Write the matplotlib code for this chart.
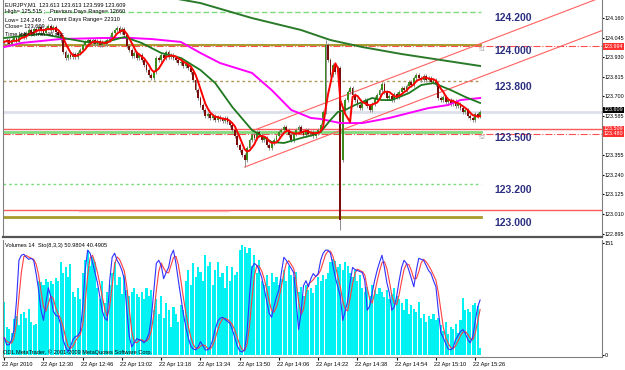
import matplotlib
matplotlib.use("Agg")
import matplotlib.pyplot as plt
import matplotlib.transforms as mtransforms
import numpy as np
import pandas as pd

plt.rcParams['font.family'] = ['Liberation Sans', 'DejaVu Sans']

# EURJPY M1 closes, one per bar, from 22 Apr 12:14
close = [
    124.020, 124.031, 124.008, 124.031, 124.043, 124.020, 124.055, 124.067, 124.049, 124.072,
    124.090, 124.067, 124.096, 124.084, 124.108, 124.090, 124.072, 124.102, 124.113, 124.090,
    124.108, 124.078, 124.061, 124.031, 123.961, 123.926, 123.943, 123.932, 123.949, 123.932,
    123.955, 123.973, 124.002, 124.020, 124.031, 124.014, 124.031, 124.008, 124.025, 124.002,
    124.020, 124.008, 124.031, 124.049, 124.072, 124.090, 124.102, 124.078, 124.096, 124.061,
    123.996, 123.973, 123.937, 123.955, 123.926, 123.943, 123.914, 123.885, 123.855, 123.826,
    123.808, 123.844, 123.926, 123.914, 123.943, 123.926, 123.961, 123.932, 123.943, 123.926,
    123.914, 123.896, 123.902, 123.879, 123.891, 123.867, 123.844, 123.797, 123.738, 123.691,
    123.650, 123.621, 123.585, 123.597, 123.574, 123.585, 123.562, 123.580, 123.568, 123.556,
    123.574, 123.550, 123.533, 123.503, 123.468, 123.415, 123.386, 123.357, 123.327, 123.398,
    123.445, 123.474, 123.456, 123.492, 123.474, 123.445, 123.456, 123.415, 123.398, 123.427,
    123.445, 123.468, 123.492, 123.503, 123.521, 123.503, 123.474, 123.445, 123.480, 123.503,
    123.521, 123.492, 123.474, 123.503, 123.480, 123.492, 123.468, 123.486, 123.503, 123.533,
    123.609, 124.002, 123.914, 123.826, 123.885, 123.844, 123.867, 122.975, 123.621, 123.679,
    123.726, 123.750, 123.709, 123.679, 123.650, 123.632, 123.662, 123.679, 123.644, 123.621,
    123.656, 123.691, 123.709, 123.738, 123.773, 123.726, 123.691, 123.703, 123.679, 123.715,
    123.697, 123.726, 123.750, 123.738, 123.761, 123.785, 123.767, 123.808, 123.826, 123.808,
    123.797, 123.820, 123.797, 123.808, 123.785, 123.797, 123.773, 123.691, 123.679, 123.697,
    123.668, 123.679, 123.656, 123.673, 123.644, 123.656, 123.632, 123.609, 123.621, 123.585,
    123.574, 123.562, 123.597, 123.585, 123.609,
]
# bars whose open/high/low differ from the usual shape
open_fix = {138: 123.330}
high_fix = {131: 124.031}
low_fix = {98: 123.286, 137: 122.917}

volume = [
    71, 38, 35, 30, 48, 52, 40, 55, 58, 50, 62, 45, 40, 42, 100, 98, 95,
    102, 98, 100, 96, 104, 100, 125, 110, 118, 105, 122, 85, 78, 90, 75, 110,
    128, 141, 120, 132, 125, 90, 75, 100, 70, 85, 95, 110, 125, 95, 105, 82, 108,
    88, 80, 85, 90, 82, 78, 85, 75, 90, 80, 88, 60, 75, 55, 80,
    50, 70, 60, 38, 65, 55, 45, 68, 60, 100, 115, 95, 124, 105, 118,
    112, 100, 135, 120, 125, 95, 115, 125, 105, 110, 90, 120, 100, 118, 108, 112,
    142, 148, 145, 138, 144, 120, 135, 110, 128, 100, 95, 108, 93, 110, 98, 105, 95, 102,
    115, 100, 120, 108, 105, 112, 85, 92, 80, 95, 88, 90, 83, 94, 105, 100, 108, 103, 110,
    125, 130, 127, 118, 122, 115, 125, 120, 110, 105, 115, 100, 108,
    90, 85, 92, 80, 95, 88, 82, 90, 85, 78, 88, 75, 82, 90, 80, 76,
    70, 60, 75, 55, 68, 62, 58, 72, 50, 55, 45, 52, 48, 55, 47, 50,
    40, 32, 45, 28, 38, 35, 42, 30, 47, 77, 60, 62, 58, 67, 70, 66, 10,
]

sto_main = [
    14, 7, 7, 12, 22, 50, 90, 95, 96, 93, 91, 92, 90, 77, 61, 41, 31, 48, 63, 54,
    40, 36, 35, 27, 12, 5, 0, 5, 12, 15, 16, 20, 44, 80, 100, 97, 88, 78, 68, 54,
    40, 33, 31, 70, 93, 97, 90, 86, 80, 71, 40, 15, 5, 9, 13, 12, 11, 9, 12, 18,
    34, 60, 87, 90, 85, 72, 78, 83, 95, 100, 87, 70, 54, 38, 25, 14, 6, 3, 2, 5,
    10, 6, 2, 2, 5, 12, 22, 30, 33, 34, 32, 30, 28, 22, 14, 6, 1, 0, 2, 20,
    55, 83, 87, 85, 80, 73, 62, 50, 38, 34, 45, 54, 61, 78, 93, 90, 86, 82, 78, 50,
    22, 38, 65, 70, 64, 72, 77, 74, 77, 90, 97, 100, 100, 97, 85, 73, 64, 55, 31, 40,
    50, 68, 83, 81, 80, 79, 78, 70, 41, 45, 58, 70, 80, 88, 95, 83, 68, 58, 41, 44,
    55, 70, 83, 90, 87, 80, 72, 64, 80, 92, 91, 90, 85, 80, 77, 70, 64, 40, 19, 14,
    8, 3, 2, 4, 12, 16, 20, 22, 18, 12, 9, 15, 30, 44, 51,
]

# moving averages (bar index, price)
green_bar = [0, 15, 33, 40, 49, 56, 64, 72, 80, 86, 93, 101, 109, 114, 121, 126, 129,
             133, 136, 139, 143, 150, 154, 158, 165, 170, 175, 182, 188, 194]
green_price = [124.043, 124.067, 124.020, 124.014, 124.049, 124.014, 123.955, 123.926,
               123.855, 123.779, 123.638, 123.503, 123.433, 123.427, 123.456, 123.474,
               123.492, 123.562, 123.609, 123.621, 123.650, 123.691, 123.679, 123.679,
               123.720, 123.767, 123.779, 123.738, 123.697, 123.662]
magenta_bar = [0, 7, 23, 40, 52, 60, 72, 80, 88, 101, 109, 117, 125, 129, 137, 146,
               157, 165, 173, 181, 186, 194]
magenta_price = [123.990, 124.014, 124.037, 124.043, 124.043, 124.037, 124.020, 123.955,
                 123.896, 123.838, 123.738, 123.621, 123.574, 123.568, 123.544, 123.544,
                 123.574, 123.603, 123.632, 123.650, 123.679, 123.691]
slow_bar = [60, 80, 101, 121, 133, 146, 162, 178, 194]
slow_price = [124.300, 124.248, 124.160, 124.090, 124.031, 123.990, 123.949, 123.914, 123.879]

# pivot levels with their captions
pivot_price = [124.196, 124.000, 123.791, 123.492, 123.186, 122.990]
pivot_text = ["124.200", "124.000", "123.800", "123.500", "123.200", "123.000"]
s1_price = 123.994
s2_price = 123.480
red_lines = [123.509, 123.031]
bid = 123.609

# channel (start bar, start price, end bar, end price)
chan_upper = (102, 123.503, 245, 124.290)
chan_lower = (98, 123.286, 245, 124.094)

price_ticks = [124.160, 124.045, 123.930, 123.815, 123.700, 123.585,
               123.355, 123.240, 123.125, 123.010, 122.895]
time_labels = ["22 Apr 2010", "22 Apr 12:30", "22 Apr 12:46", "22 Apr 13:02",
               "22 Apr 13:18", "22 Apr 13:34", "22 Apr 13:50", "22 Apr 14:06",
               "22 Apr 14:22", "22 Apr 14:38", "22 Apr 14:54", "22 Apr 15:10",
               "22 Apr 15:26"]

W, H = 625, 370
small = 4.1
fig = plt.figure(figsize=(W / 100, H / 100), dpi=100)
fig.patch.set_facecolor("white")
ax = fig.add_axes([3 / W, 1 - 237 / H, 599 / W, 237 / H])
ax2 = fig.add_axes([3 / W, 1 - 357 / H, 599 / W, 117 / H])
ax3 = fig.add_axes([3 / W, 1 - 357 / H, 599 / W, 117 / H], frameon=False)

xlim = (-0.5, 243.7)
n = len(close)
x = np.arange(n)
c = np.array(close)
o = np.r_[c[0], c[:-1]]
for k, v in open_fix.items():
    o[k] = v
wick = 0.012
hi = np.maximum(o, c) + wick
lo = np.minimum(o, c) - wick
for k, v in high_fix.items():
    hi[k] = v
for k, v in low_fix.items():
    lo[k] = v

# horizontal levels
end_bar = n - 0.5
pstyle = [("#7ddc7d", (0, (4, 2)), 1.0), ("#a89a2a", "-", 1.4), ("#b09a5a", (0, (2, 2)), 1.0),
          ("#7ddc7d", "-", 2.0), ("#7ddc7d", (0, (2, 2)), 1.0), ("#a89a2a", "-", 2.0)]
for p, (col, ls, lw) in zip(pivot_price, pstyle):
    ax.plot([-0.5, end_bar], [p, p], color=col, ls=ls, lw=lw, zorder=1)
for p, t in zip(pivot_price, pivot_text):
    ax.text(200, p - 0.004, t, color="#2b2f80", fontsize=7.5, fontweight="bold",
            va="top", ha="left")
ax.axhline(bid, color="#dde0ea", lw=2, zorder=0.5)
for p in red_lines:
    ax.axhline(p, color="#ff5a5a", lw=1, zorder=1)
ax.plot([30.6, 91.3], [red_lines[1] - 0.003] * 2, color="#ffb0b0", lw=1, zorder=1)
for p in (s1_price, s2_price):
    ax.axhline(p, color="#ff5050", lw=0.8, ls="-.", zorder=1)
ax.text(end_bar - 1, s1_price - 0.006, "S1", color="#a0a0a0", fontsize=small, va="top")
ax.text(end_bar - 1, s2_price - 0.006, "S2", color="#a0a0a0", fontsize=small, va="top")

# channel
for b0, p0, b1, p1 in (chan_upper, chan_lower):
    ax.plot([b0, b1], [p0, p1], color="#ff6060", lw=0.8, zorder=2)

# candles
ax.vlines(x, lo, hi, color="#8c8c8c", lw=0.7, zorder=3)
up = c >= o
body = np.maximum(np.abs(c - o), 0.002)
ax.bar(x[up], body[up], bottom=np.minimum(o, c)[up], width=0.75, color="#3c8c1e", zorder=4)
ax.bar(x[~up], body[~up], bottom=np.minimum(o, c)[~up], width=0.75, color="#7a0c0c", zorder=4)

# moving averages
ma_fast = pd.Series(c).rolling(5, min_periods=1).mean()
ax.plot(slow_bar, slow_price, color="#2a7a2a", lw=1.4, zorder=5)
ax.plot(magenta_bar, magenta_price, color="#ff00ff", lw=1.4, zorder=5)
ax.plot(green_bar, green_price, color="#1e781e", lw=1.3, zorder=5)
ax.plot(x, ma_fast, color="#ff0000", lw=1.4, zorder=6)

ax.set_xlim(*xlim)
ax.set_ylim(124.266 - 237 * 0.005867, 124.266)
ax.yaxis.tick_right()
ax.set_yticks(price_ticks)
ax.set_yticklabels([f"{t:.3f}" for t in price_ticks], fontsize=3.9)
ax.tick_params(axis="y", length=1.5, pad=0.5, colors="black")
ax.set_xticks([])
for s in ("left", "right"):
    ax.spines[s].set_color("#808080")
    ax.spines[s].set_linewidth(0.8)
ax.spines["top"].set_visible(False)
ax.spines["bottom"].set_color("#555555")
ax.spines["bottom"].set_linewidth(1.6)

# price boxes on the scale
tr = mtransforms.blended_transform_factory(ax.transAxes, ax.transData)
ax.text(1.003, s1_price, "123.994", transform=tr, fontsize=3.9, color="white",
        va="center", ha="left", bbox=dict(boxstyle="square,pad=0.15", fc="#ff3030", ec="none"),
        clip_on=False, zorder=10)
ax.text(1.003, (red_lines[0] + s2_price) / 2, "123.509\n123.480", transform=tr,
        fontsize=3.9, color="white", va="center", ha="left", linespacing=1.0,
        bbox=dict(boxstyle="square,pad=0.15", fc="#ff3030", ec="none"),
        clip_on=False, zorder=10)
ax.text(1.003, bid + 0.012, "123.609", transform=tr, fontsize=3.9, color="white",
        va="center", ha="left", bbox=dict(boxstyle="square,pad=0.15", fc="black", ec="none"),
        clip_on=False, zorder=10)

# volumes + stochastic
ax2.bar(x, volume, width=0.85, color="#00f2f2", zorder=2)
ax2.set_xlim(*xlim)
ax2.set_ylim(-2.7, 155)
ax2.yaxis.tick_right()
ax2.set_yticks([0, 151])
ax2.set_yticklabels(["0", "151"], fontsize=small)
ax2.tick_params(axis="y", length=1.5, pad=0.5)
ax2.set_xticks(np.arange(len(time_labels)) * 16)
ax2.set_xticklabels(time_labels, fontsize=small, ha="left")
ax2.tick_params(axis="x", length=2, pad=1.5)
shift = mtransforms.ScaledTranslation(-2 / 100, 0, fig.dpi_scale_trans)
for lab in ax2.get_xticklabels():
    lab.set_transform(lab.get_transform() + shift)
for s in ("left", "right", "bottom"):
    ax2.spines[s].set_color("#808080")
    ax2.spines[s].set_linewidth(0.8)
ax2.spines["top"].set_visible(False)

sto = pd.Series(sto_main, dtype=float)
sto_signal = sto.rolling(3, min_periods=1).mean()
ax3.plot(x, sto_signal, color="#ff4040", lw=0.8)
ax3.plot(x, sto, color="#3030ff", lw=0.8)
ax3.set_xlim(*xlim)
ax3.set_ylim(-5, 110)
ax3.axis("off")

def ptext(px, py, s):
    fig.text(px / W, 1 - py / H, s, fontsize=small, va="center", ha="left")

ptext(5, 5, "EURJPY,M1  123.613 123.613 123.599 123.609")
ptext(5, 12, "High= 125.515 ;")
ptext(50, 12, "Previous Days Range= 12660")
ptext(5, 20, "Low= 124.249 ;")
ptext(48, 20, "Current Days Range= 22310")
ptext(5, 27, "Close= 123.609")
ptext(5, 35, "Time left= 0 min 46 sec")
ptext(5, 246, "Volumes 14  Sto(8,3,3) 50.9804 40.4905")
ptext(3, 352, "ODL MetaTrader, \u00a9 2001-2009 MetaQuotes Software Corp.")

fig.savefig("out.png", dpi=100)
